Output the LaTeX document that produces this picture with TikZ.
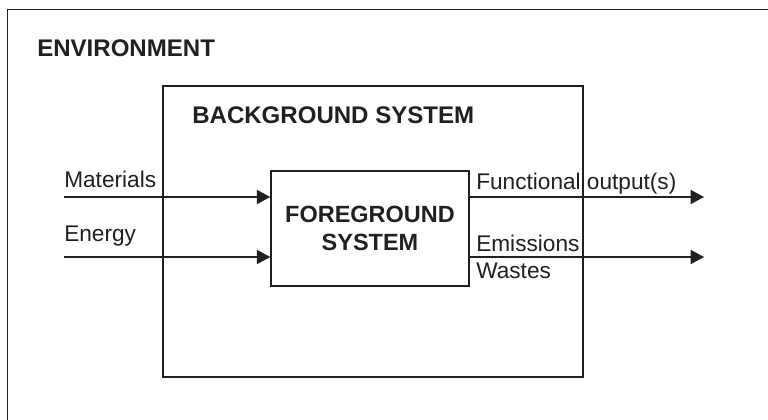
\documentclass[tikz,border=0pt]{standalone}
\usepackage{fontspec}
\setmainfont{Liberation Sans}
\usetikzlibrary{arrows.meta}
\definecolor{inkblack}{HTML}{231F20}

\begin{document}
\begin{tikzpicture}[
    x=0.025cm, y=-0.025cm,
    every node/.style={font=\fontsize{16.1}{19}\selectfont, text=inkblack},
    title/.style={anchor=base west, inner sep=0pt, font=\fontsize{17.1}{20}\selectfont\bfseries},
    label/.style={anchor=base west, inner sep=0pt},
    box/.style={draw=inkblack, line width=1pt, rectangle, inner sep=0pt},
    flow/.style={draw=inkblack, line width=1pt, -{Triangle[length=9.5pt, width=10pt]}}
  ]
    \useasboundingbox (0,0) rectangle (768,420);
    \begin{scope}
      \clip (0,0) rectangle (768,420);
      \draw[inkblack, line width=1.2pt] (7.5,9.5) rectangle (800,460);
    \end{scope}
    \node[title] (envlabel) at (37,57) {ENVIRONMENT};
    \node[box, minimum width=10.5cm, minimum height=7.275cm] (bgsys) at (373,231.5) {};
    \node[title] (bglabel) at (192,123) {BACKGROUND SYSTEM};
    \node[box, minimum width=4.95cm, minimum height=2.875cm, align=center,
      font=\fontsize{16.7}{19.9}\selectfont\bfseries] (fgsys) at (370,228.5) {FOREGROUND\\SYSTEM};
    \coordinate (matin) at (64,197);
    \coordinate (enin) at (64,257);
    \coordinate (funcout) at (704,197);
    \coordinate (emout) at (704,257);
    \draw[flow] (matin) -- (matin -| fgsys.west);
    \draw[flow] (enin) -- (enin -| fgsys.west);
    \draw[flow] (funcout -| fgsys.east) -- (funcout);
    \draw[flow] (emout -| fgsys.east) -- (emout);
    \node[label] (matlabel) at (64,187) {Materials};
    \node[label] (enlabel) at (64,241) {Energy};
    \node[label] (funclabel) at (476,189) {Functional output(s)};
    \node[label] (emlabel) at (476,251) {Emissions};
    \node[label] (wastelabel) at (476,278) {Wastes};
  \end{tikzpicture}
\end{document}
